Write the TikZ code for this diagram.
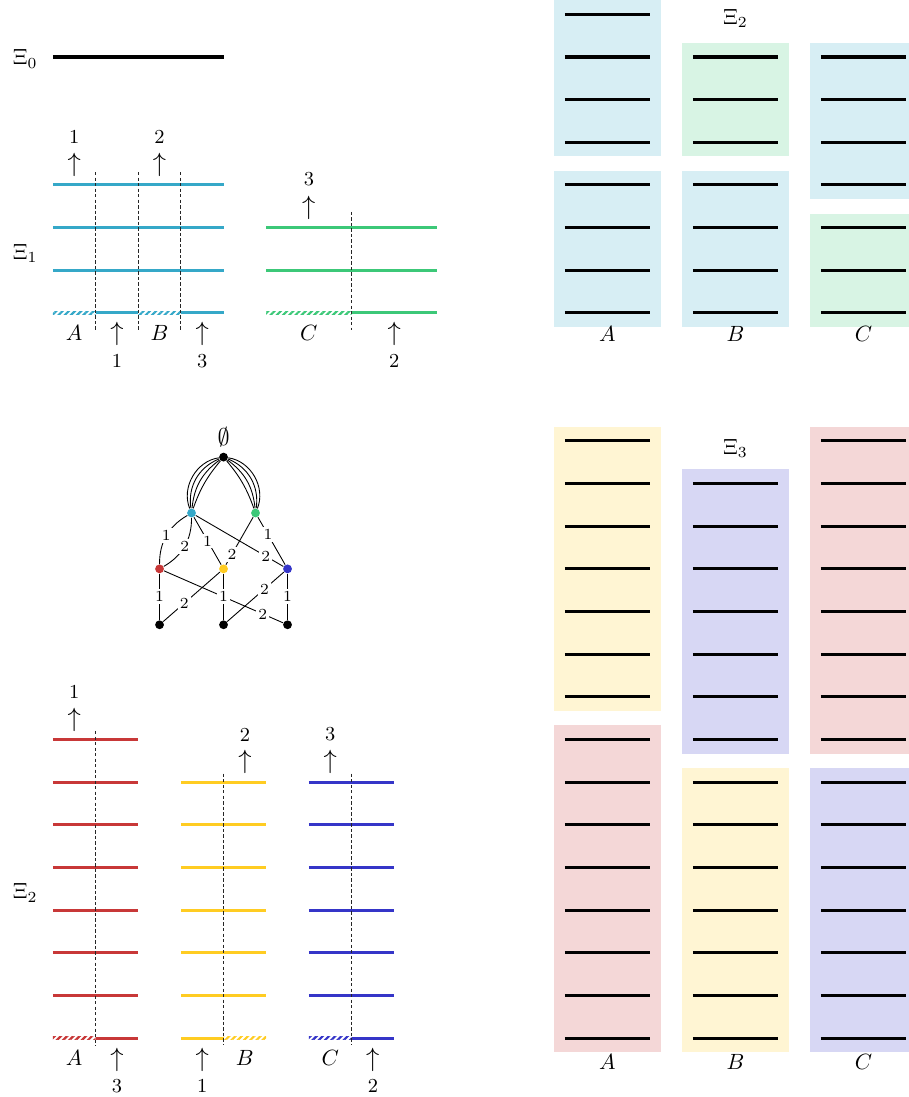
\documentclass[tikz,border=0pt]{standalone}
\usetikzlibrary{patterns.meta}
\definecolor{xiCyan}{HTML}{35A8C8}
\definecolor{xiGreen}{HTML}{3CC878}
\definecolor{xiRed}{HTML}{C83838}
\definecolor{xiYellow}{HTML}{FFCC22}
\definecolor{xiBlue}{HTML}{3535C8}
\tikzset{
  xi board/.style={
    x=0.68cm,
    y=0.68cm,
    line width=0.4pt,
    line join=round
  },
  xi level/.style={
    line width=1.4pt
  },
  xi hatch/.style={
    rectangle,
    inner sep=0pt,
    minimum width=0.68cm,
    minimum height=1.4pt,
    pattern={Lines[angle=45,distance=2pt,line width=1pt]},
    pattern color=#1
  },
  xi cut/.style={
    black!85,
    line width=0.5pt,
    dash pattern=on 1.5pt off 1pt
  },
  xi tag/.style={
    inner sep=1pt
  },
  xi num/.style={
    font=\fontsize{9}{10}\selectfont,
    inner sep=0pt
  },
  xi arrow/.style={
    font=\fontsize{11.5}{13}\selectfont,
    inner sep=0pt
  },
  xi block/.style={
    fill=#1!20
  },
  xi dot/.style={
    circle,
    fill=#1,
    inner sep=0pt,
    minimum size=4pt
  },
  xi edge/.style={
    font=\scriptsize,
    fill=white,
    inner sep=1pt
  }
}

\begin{document}
\begin{tikzpicture}[xi board]
  \useasboundingbox (-1.24,-24.38) rectangle (20.05,1.335);

  % level zero
  \node[xi tag] (xi0) at (-0.65,-0.05) {$\Xi_0$};
  \draw[xi level] (0,0) -- (4,0);

  % level one, cyan block
  \node[xi tag] (xi1) at (-0.65,-4.6) {$\Xi_1$};
  \foreach \y in {-3,-4,-5} \draw[xi level,xiCyan] (0,\y) -- (4,\y);
  \node[xi hatch=xiCyan] (h1) at (0.5,-6) {};
  \draw[xi level,xiCyan] (1,-6) -- (2,-6);
  \node[xi hatch=xiCyan] (h2) at (2.5,-6) {};
  \draw[xi level,xiCyan] (3,-6) -- (4,-6);
  \foreach \x in {1,2,3} \draw[xi cut] (\x,-2.7) -- (\x,-6.4);
  \node[xi num] (t1) at (0.5,-1.87) {1};
  \node[xi arrow] (u1) at (0.5,-2.54) {$\uparrow$};
  \node[xi num] (t2) at (2.5,-1.87) {2};
  \node[xi arrow] (u2) at (2.5,-2.54) {$\uparrow$};
  \node (la1) at (0.5,-6.47) {$A$};
  \node[xi arrow] (d1) at (1.5,-6.48) {$\uparrow$};
  \node[xi num] (b1) at (1.5,-7.12) {1};
  \node (lb1) at (2.5,-6.47) {$B$};
  \node[xi arrow] (d3) at (3.5,-6.48) {$\uparrow$};
  \node[xi num] (b3) at (3.5,-7.12) {3};

  % level one, green block
  \foreach \y in {-4,-5} \draw[xi level,xiGreen] (5,\y) -- (9,\y);
  \node[xi hatch=xiGreen] (h3) at (5.5,-6) {};
  \node[xi hatch=xiGreen] (h4) at (6.5,-6) {};
  \draw[xi level,xiGreen] (7,-6) -- (9,-6);
  \draw[xi cut] (7,-3.63) -- (7,-6.4);
  \node[xi num] (t3) at (6,-2.87) {3};
  \node[xi arrow] (u3) at (6,-3.54) {$\uparrow$};
  \node (lc1) at (6,-6.47) {$C$};
  \node[xi arrow] (d2) at (8,-6.48) {$\uparrow$};
  \node[xi num] (b2) at (8,-7.12) {2};

  % tree
  \node[font=\fontsize{11}{13}\selectfont] (empty) at (4,-8.91) {$\emptyset$};
  \node[xi dot=black] (r) at (4,-9.38) {};
  \node[xi dot=xiCyan] (c) at (3.25,-10.69) {};
  \node[xi dot=xiGreen] (g) at (4.75,-10.69) {};
  \node[xi dot=xiRed] (rd) at (2.5,-12) {};
  \node[xi dot=xiYellow] (ye) at (4,-12) {};
  \node[xi dot=xiBlue] (bl) at (5.5,-12) {};
  \node[xi dot=black] (k1) at (2.5,-13.31) {};
  \node[xi dot=black] (k2) at (4,-13.31) {};
  \node[xi dot=black] (k3) at (5.5,-13.31) {};
  \foreach \b in {10,24,38,52} \draw (r) to[bend right=\b] (c);
  \foreach \b in {10,24,38,52} \draw (r) to[bend left=\b] (g);
  \draw (c) to[bend right=30] (rd);
  \draw (c) to[bend left=30] (rd);
  \draw (c) -- (ye);
  \draw (c) -- (bl);
  \draw (g) -- (ye);
  \draw (g) -- (bl);
  \draw (rd) -- (k1);
  \draw (rd) -- (k3);
  \draw (ye) -- (k1);
  \draw (ye) -- (k2);
  \draw (bl) -- (k2);
  \draw (bl) -- (k3);
  \path (c) to[bend right=30] node[xi edge] (e1) {1} (rd);
  \path (c) to[bend left=30] node[xi edge] (e2) {2} (rd);
  \path (c) -- node[xi edge] (e3) {1} (ye);
  \path (c) -- node[xi edge,pos=0.8] (e4) {2} (bl);
  \path (g) -- node[xi edge,pos=0.78] (e5) {2} (ye);
  \path (g) -- node[xi edge,pos=0.37] (e6) {1} (bl);
  \path (rd) -- node[xi edge] (e7) {1} (k1);
  \path (rd) -- node[xi edge,pos=0.83] (e8) {2} (k3);
  \path (ye) -- node[xi edge,pos=0.63] (e9) {2} (k1);
  \path (ye) -- node[xi edge] (e10) {1} (k2);
  \path (bl) -- node[xi edge,pos=0.34] (e11) {2} (k2);
  \path (bl) -- node[xi edge] (e12) {1} (k3);

  % level two, three blocks
  \node[xi tag] (xi2) at (-0.65,-19.6) {$\Xi_2$};
  \foreach \y in {-16,-17,...,-22} \draw[xi level,xiRed] (0,\y) -- (2,\y);
  \node[xi hatch=xiRed] (h5) at (0.5,-23) {};
  \draw[xi level,xiRed] (1,-23) -- (2,-23);
  \draw[xi cut] (1,-15.8) -- (1,-23.17);
  \node[xi num] (t4) at (0.5,-14.88) {1};
  \node[xi arrow] (u4) at (0.5,-15.53) {$\uparrow$};
  \node (la2) at (0.5,-23.47) {$A$};
  \node[xi arrow] (d4) at (1.5,-23.52) {$\uparrow$};
  \node[xi num] (b4) at (1.5,-24.12) {3};

  \foreach \y in {-17,-18,...,-22} \draw[xi level,xiYellow] (3,\y) -- (5,\y);
  \draw[xi level,xiYellow] (3,-23) -- (4,-23);
  \node[xi hatch=xiYellow] (h6) at (4.5,-23) {};
  \draw[xi cut] (4,-16.8) -- (4,-23.17);
  \node[xi num] (t5) at (4.5,-15.88) {2};
  \node[xi arrow] (u5) at (4.5,-16.53) {$\uparrow$};
  \node[xi arrow] (d5) at (3.5,-23.52) {$\uparrow$};
  \node[xi num] (b5) at (3.5,-24.12) {1};
  \node (lb2) at (4.5,-23.47) {$B$};

  \foreach \y in {-17,-18,...,-22} \draw[xi level,xiBlue] (6,\y) -- (8,\y);
  \node[xi hatch=xiBlue] (h7) at (6.5,-23) {};
  \draw[xi level,xiBlue] (7,-23) -- (8,-23);
  \draw[xi cut] (7,-16.8) -- (7,-23.17);
  \node[xi num] (t6) at (6.5,-15.88) {3};
  \node[xi arrow] (u6) at (6.5,-16.53) {$\uparrow$};
  \node (lc2) at (6.5,-23.47) {$C$};
  \node[xi arrow] (d6) at (7.5,-23.52) {$\uparrow$};
  \node[xi num] (b6) at (7.5,-24.12) {2};

  % right, level two
  \node[xi tag] (xi2r) at (16,0.9) {$\Xi_2$};
  \fill[xi block=xiCyan] (11.75,1.4) rectangle (14.25,-2.33);
  \fill[xi block=xiCyan] (11.75,-2.67) rectangle (14.25,-6.33);
  \fill[xi block=xiGreen] (14.75,0.33) rectangle (17.25,-2.33);
  \fill[xi block=xiCyan] (14.75,-2.67) rectangle (17.25,-6.33);
  \fill[xi block=xiCyan] (17.75,0.33) rectangle (20.25,-3.33);
  \fill[xi block=xiGreen] (17.75,-3.67) rectangle (20.25,-6.33);
  \foreach \y in {1,0,...,-6} \draw[xi level] (12,\y) -- (14,\y);
  \foreach \y in {0,-1,...,-6} {
    \draw[xi level] (15,\y) -- (17,\y);
    \draw[xi level] (18,\y) -- (20,\y);
  }
  \node (ra1) at (13,-6.5) {$A$};
  \node (rb1) at (16,-6.5) {$B$};
  \node (rc1) at (19,-6.5) {$C$};

  % right, level three
  \node[xi tag] (xi3) at (16,-9.18) {$\Xi_3$};
  \fill[xi block=xiYellow] (11.75,-8.67) rectangle (14.25,-15.33);
  \fill[xi block=xiRed] (11.75,-15.67) rectangle (14.25,-23.33);
  \fill[xi block=xiBlue] (14.75,-9.67) rectangle (17.25,-16.33);
  \fill[xi block=xiYellow] (14.75,-16.67) rectangle (17.25,-23.33);
  \fill[xi block=xiRed] (17.75,-8.67) rectangle (20.25,-16.33);
  \fill[xi block=xiBlue] (17.75,-16.67) rectangle (20.25,-23.33);
  \foreach \y in {-9,-10,...,-23} {
    \draw[xi level] (12,\y) -- (14,\y);
    \draw[xi level] (18,\y) -- (20,\y);
  }
  \foreach \y in {-10,-11,...,-23} \draw[xi level] (15,\y) -- (17,\y);
  \node (ra2) at (13,-23.57) {$A$};
  \node (rb2) at (16,-23.57) {$B$};
  \node (rc2) at (19,-23.57) {$C$};
\end{tikzpicture}
\end{document}
